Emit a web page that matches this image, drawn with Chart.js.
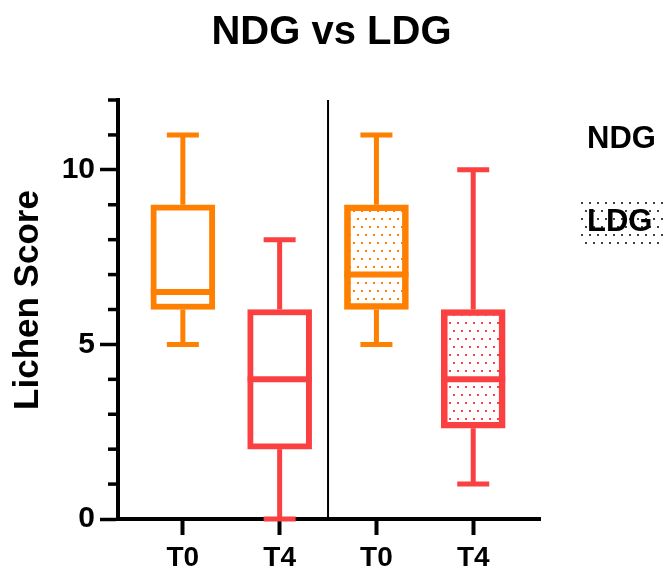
<!DOCTYPE html>
<html>
<head>
<meta charset="utf-8">
<title>NDG vs LDG</title>
<script src="https://cdn.jsdelivr.net/npm/chart.js@4/dist/chart.umd.min.js"></script>
<style>
    html, body { margin: 0; padding: 0; background: #fff; }
</style>
</head>
<body>
<canvas id="chart" width="663" height="572"></canvas>
<script>
// 数据
const categories = ['T0', 'T4', 'T0', 'T4'];
const groupOf = ['NDG', 'NDG', 'LDG', 'LDG'];
const seriesNames = ['NDG', 'LDG'];
const mins = [5, 0, 5, 1];
const lowerQuartiles = [6, 2, 6, 2.6];
const medians = [6.5, 4, 7, 4];
const upperQuartiles = [9, 6, 9, 6];
const maxs = [11, 8, 11, 10];
const yMajorTicks = [0, 5, 10];

const timeColors = { T0: 'rgb(255,127,0)', T4: 'rgb(250,64,64)' };
const FONT = "'Liberation Sans', Arial, Helvetica, sans-serif";

// 点状填充
function dotPattern(color) {
    const tile = document.createElement('canvas');
    tile.width = 8;
    tile.height = 16;
    const g = tile.getContext('2d');
    g.fillStyle = color;
    g.fillRect(1, 2, 2, 2);
    g.fillRect(5, 10, 2, 2);
    return document.createElement('canvas').getContext('2d').createPattern(tile, 'repeat');
}

function strokeLine(ctx, x1, y1, x2, y2) {
    ctx.beginPath();
    ctx.moveTo(x1, y1);
    ctx.lineTo(x2, y2);
    ctx.stroke();
}

// 每组一个数据集，盒子用浮动柱
const datasets = seriesNames.map(name => {
    const idx = categories.map((c, i) => i).filter(i => groupOf[i] === name);
    const patterned = name === 'LDG';
    return {
        label: name,
        data: idx.map(i => ({ x: i, y: [lowerQuartiles[i], upperQuartiles[i]] })),
        backgroundColor: idx.map(i => patterned ? dotPattern(timeColors[categories[i]]) : '#fff'),
        borderColor: idx.map(i => timeColors[categories[i]]),
        borderWidth: 6,
        borderSkipped: false,
        barThickness: 64,
        grouped: false
    };
});

// 须线、中位线、分隔线、小刻度、轴标题、图例
const boxExtras = {
    id: 'boxExtras',
    afterDatasetsDraw(chart) {
        const { ctx, scales: { x, y } } = chart;
        ctx.save();
        ctx.lineCap = 'butt';
        categories.forEach((cat, i) => {
            const cx = x.getPixelForValue(i);
            ctx.strokeStyle = timeColors[cat];
            ctx.lineWidth = 5;
            const yMax = y.getPixelForValue(maxs[i]);
            const yMin = y.getPixelForValue(mins[i]);
            strokeLine(ctx, cx, y.getPixelForValue(upperQuartiles[i]), cx, yMax);
            strokeLine(ctx, cx, y.getPixelForValue(lowerQuartiles[i]), cx, yMin);
            strokeLine(ctx, cx - 16, yMax, cx + 16, yMax);
            strokeLine(ctx, cx - 16, yMin, cx + 16, yMin);
            ctx.lineWidth = 6;
            const ym = y.getPixelForValue(medians[i]);
            strokeLine(ctx, cx - 32, ym, cx + 32, ym);
        });
        ctx.restore();
    },
    afterDraw(chart) {
        const { ctx, scales: { x, y } } = chart;
        ctx.save();
        // 分隔线
        ctx.strokeStyle = '#000';
        ctx.lineWidth = 2;
        const dx = x.getPixelForValue(1.5);
        strokeLine(ctx, dx, y.top, dx, y.bottom);
        // 小刻度
        ctx.lineWidth = 3.5;
        for (let v = y.min; v <= y.max; v++) {
            if (yMajorTicks.includes(v)) continue;
            const py = y.getPixelForValue(v);
            strokeLine(ctx, y.right - 10, py, y.right, py);
        }
        // y 轴标题
        ctx.fillStyle = '#000';
        ctx.font = 'bold 35px ' + FONT;
        ctx.textAlign = 'center';
        ctx.textBaseline = 'middle';
        ctx.translate(28, 300);
        ctx.rotate(-Math.PI / 2);
        ctx.fillText('Lichen Score', 0, 0);
        ctx.setTransform(1, 0, 0, 1, 0, 0);
        // 图例
        ctx.font = 'bold 31px ' + FONT;
        ctx.textAlign = 'left';
        ctx.fillStyle = dotPattern('rgba(0,0,0,0.75)');
        ctx.fillRect(581, 202, 82, 42);
        ctx.fillStyle = '#000';
        ctx.fillText(seriesNames[0], 587, 139);
        ctx.fillText(seriesNames[1], 587, 222);
        ctx.restore();
    }
};

new Chart(document.getElementById('chart'), {
    type: 'bar',
    data: { datasets },
    options: {
        responsive: false,
        animation: false,
        events: [],
        layout: { padding: 0 },
        plugins: {
            legend: { display: false },
            tooltip: { enabled: false },
            title: {
                display: true,
                text: 'NDG vs LDG',
                color: '#000',
                font: { family: FONT, size: 40, weight: 'bold' },
                padding: { top: 9, bottom: 43 }
            }
        },
        scales: {
            x: {
                type: 'linear',
                min: -0.67,
                max: 3.69,
                offset: false,
                afterBuildTicks(scale) {
                    scale.ticks = categories.map((c, i) => ({ value: i }));
                },
                afterFit(scale) { scale.height = 53; },
                ticks: {
                    autoSkip: false,
                    maxRotation: 0,
                    padding: 6,
                    color: '#000',
                    font: { family: FONT, size: 28, weight: 'bold' },
                    callback: v => categories[v]
                },
                grid: {
                    display: true,
                    offset: false,
                    drawOnChartArea: false,
                    tickLength: 16,
                    tickWidth: 4,
                    tickColor: '#000'
                },
                border: { display: true, width: 4, color: '#000' }
            },
            y: {
                min: 0,
                max: 12,
                afterFit(scale) { scale.width = 118; },
                ticks: {
                    stepSize: 1,
                    autoSkip: false,
                    padding: 5,
                    color: '#000',
                    font: { family: FONT, size: 30, weight: 'bold' },
                    callback: v => yMajorTicks.includes(v) ? String(v) : ''
                },
                grid: {
                    display: true,
                    drawOnChartArea: false,
                    tickLength: 18,
                    tickWidth: 3.5,
                    tickColor: ctx => yMajorTicks.includes(ctx.tick.value) ? '#000' : 'rgba(0,0,0,0)'
                },
                border: { display: true, width: 4, color: '#000' }
            },
            // 右侧留给图例的空白
            legendSpace: {
                axis: 'y',
                position: 'right',
                min: 0,
                max: 12,
                afterFit(scale) { scale.width = 123; },
                ticks: { display: false },
                grid: { display: false },
                border: { display: false }
            }
        }
    },
    plugins: [boxExtras]
});
</script>
</body>
</html>
